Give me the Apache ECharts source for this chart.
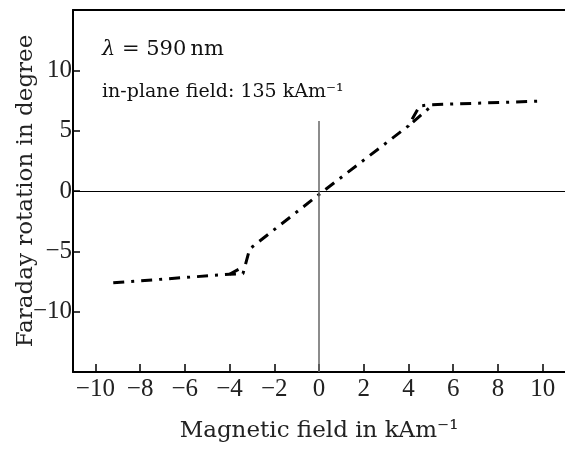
<!DOCTYPE html>
<html>
<head>
<meta charset="utf-8">
<script src="https://cdn.jsdelivr.net/npm/echarts@6/dist/echarts.min.js"></script>
<style>
  html, body { margin: 0; padding: 0; background: #fff; }
  #chart { width: 565px; height: 449px; }
</style>
</head>
<body>
<div id="chart"></div>
<script>
// data
var fieldMain = [-9.2, -4.0, -3.4, -3.1, 0.2, 4.0, 4.5, 5.0, 9.9];
var rotMain   = [-7.6, -6.9, -6.85, -4.8, 0.0, 5.4, 7.05, 7.15, 7.45];
var fieldHook = [-4.0, -3.6, 4.2, 5.0];
var rotHook   = [-6.9, -6.5, 5.7, 7.0];
var xTicks = [-10, -8, -6, -4, -2, 0, 2, 4, 6, 8, 10];
var yTicks = [-10, -5, 0, 5, 10];

function pairs(xs, ys) {
    return xs.map(function (x, i) { return [x, ys[i]]; });
}

var tickFont = 'Liberation Serif';
var textFont = 'DejaVu Serif';
var minus = function (v) { return String(v).replace('-', '\u2212'); };

var myChart = echarts.init(document.getElementById('chart'));

var dashDot = { color: '#000', width: 3, type: [11, 7, 3, 7] };

var option = {
    animation: false,
    grid: { left: 73, right: 0, top: 10, bottom: 77, outerBoundsMode: 'none' },
    xAxis: [{
        type: 'value', min: -11, max: 11,
        name: 'Magnetic field in kAm\u207B\u00B9',
        nameLocation: 'middle', nameGap: 48, nameMoveOverlap: false,
        nameTextStyle: { fontFamily: textFont, fontSize: 23, color: '#222' },
        axisLine: { onZero: false, lineStyle: { color: '#000', width: 2 } },
        axisTick: { inside: true, length: 8, customValues: xTicks, lineStyle: { color: '#000', width: 1.5 } },
        axisLabel: { customValues: xTicks, formatter: minus, fontFamily: tickFont, fontSize: 25, color: '#222', margin: 5 },
        splitLine: { show: false }
    }, {
        type: 'value', min: -11, max: 11, position: 'top',
        axisLine: { onZero: false, lineStyle: { color: '#000', width: 2 } },
        axisTick: { show: false }, axisLabel: { show: false }, splitLine: { show: false }
    }],
    yAxis: {
        type: 'value', min: -15, max: 15,
        name: 'Faraday rotation in degree',
        nameLocation: 'middle', nameGap: 35, nameMoveOverlap: false,
        nameTextStyle: { fontFamily: textFont, fontSize: 23, color: '#222' },
        axisLine: { onZero: false, lineStyle: { color: '#000', width: 2 } },
        axisTick: { inside: true, length: 7, customValues: yTicks, lineStyle: { color: '#000', width: 1.5 } },
        axisLabel: { customValues: yTicks, formatter: minus, fontFamily: tickFont, fontSize: 25, color: '#222', margin: 1 },
        splitLine: { show: false }
    },
    series: [{
        type: 'line', data: pairs(fieldMain, rotMain), symbol: 'none',
        lineStyle: dashDot,
        markLine: {
            silent: true, symbol: 'none', label: { show: false },
            data: [
                [{ coord: [-11, 0], lineStyle: { color: '#000', width: 1.2, type: 'solid' } }, { coord: [11, 0] }],
                [{ coord: [0, 5.8], lineStyle: { color: '#666', width: 1.5, type: 'solid' } }, { coord: [0, -15] }]
            ]
        }
    }, {
        type: 'line', data: [[fieldHook[0], rotHook[0]], [fieldHook[1], rotHook[1]]], symbol: 'none',
        lineStyle: dashDot
    }, {
        type: 'line', data: [[fieldHook[2], rotHook[2]], [fieldHook[3], rotHook[3]]], symbol: 'none',
        lineStyle: dashDot
    }],
    graphic: [{
        type: 'text', left: 102, top: 39,
        style: {
            text: '{i|\u03BB} = 590\u2009nm',
            font: '21px ' + textFont, fill: '#111',
            rich: { i: { fontStyle: 'italic', fontFamily: textFont, fontSize: 21 } }
        }
    }, {
        type: 'text', left: 102, top: 83,
        style: { text: 'in-plane field: 135 kAm\u207B\u00B9', font: '19px ' + textFont, fill: '#111' }
    }]
};

myChart.setOption(option);
</script>
</body>
</html>
